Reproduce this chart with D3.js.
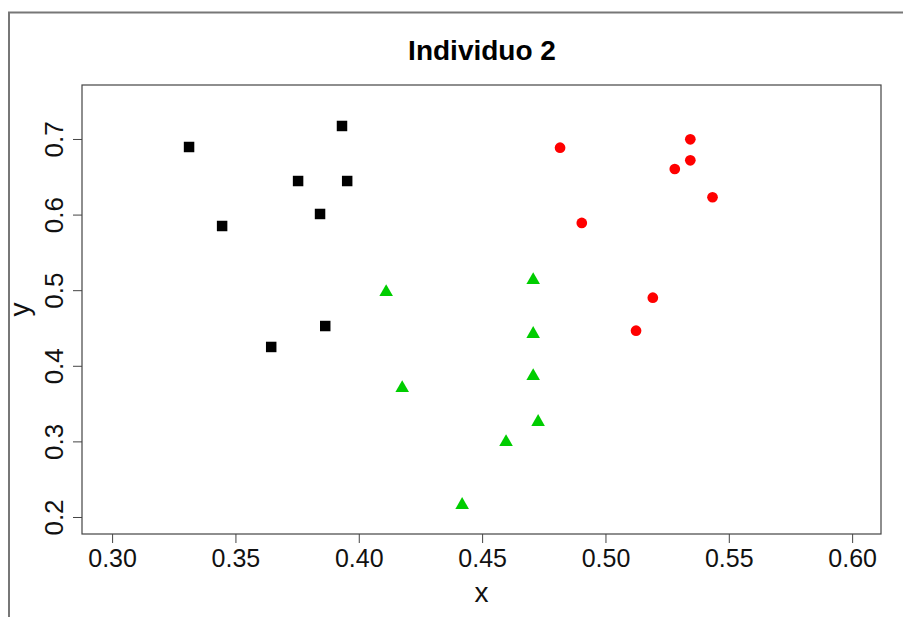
<!DOCTYPE html>
<html>
<head>
<meta charset="utf-8">
<script src="https://cdn.jsdelivr.net/npm/d3@7"></script>
<style>
  html, body { margin: 0; padding: 0; background: #fff; }
  svg { display: block; font-family: "Liberation Sans", Arial, sans-serif; }
</style>
</head>
<body>
<svg id="chart" width="903" height="617"></svg>
<script>
// ---- Data ----
const title = "Individuo 2";
const xLabel = "x";
const yLabel = "y";
const xTicks = [0.30, 0.35, 0.40, 0.45, 0.50, 0.55, 0.60];
const yTicks = [0.2, 0.3, 0.4, 0.5, 0.6, 0.7];

const groupNames = ["grupo1", "grupo2", "grupo3"];
const groupColors = ["#000000", "#00CD00", "#FF0000"];
const groupShapes = ["square", "triangle", "circle"];

const g1x = [0.3932, 0.3312, 0.3754, 0.3953, 0.3843, 0.3446, 0.3864, 0.3645];
const g1y = [0.7172, 0.6894, 0.6444, 0.6444, 0.6008, 0.5849, 0.4526, 0.4249];

const g2x = [0.4707, 0.4111, 0.4707, 0.4707, 0.4176, 0.4727, 0.4597, 0.4419];
const g2y = [0.5135, 0.4976, 0.4421, 0.3865, 0.3706, 0.3257, 0.2992, 0.2159];

const g3x = [0.4816, 0.5344, 0.5344, 0.5281, 0.5434, 0.4904, 0.5192, 0.5124];
const g3y = [0.6885, 0.6996, 0.6718, 0.6603, 0.6229, 0.5889, 0.4901, 0.4464];

const xDomain = [0.2878, 0.6117];
const yDomain = [0.1775, 0.7714];

// ---- Build ----
const groups = [[g1x, g1y], [g2x, g2y], [g3x, g3y]];
const points = [];
groups.forEach((g, gi) => g[0].forEach((xv, i) => points.push({ x: xv, y: g[1][i], g: gi })));

const svg = d3.select("#chart");
const plot = { left: 82, right: 881, top: 85, bottom: 534 };

const x = d3.scaleLinear().domain(xDomain).range([plot.left, plot.right]);
const y = d3.scaleLinear().domain(yDomain).range([plot.bottom, plot.top]);

// outer device frame (partially visible)
svg.append("path")
  .attr("d", "M9,617 V12.5 H903")
  .attr("fill", "none")
  .attr("stroke", "#777")
  .attr("stroke-width", 2);

// title
svg.append("text")
  .attr("x", 482).attr("y", 60)
  .attr("text-anchor", "middle")
  .attr("font-size", 28).attr("font-weight", "bold")
  .attr("fill", "#000")
  .text(title);

// x axis
const xAxis = svg.append("g")
  .attr("transform", `translate(0,${plot.bottom})`)
  .call(d3.axisBottom(x).tickValues(xTicks).tickSize(9).tickPadding(6).tickFormat(d3.format(".2f")));
xAxis.select(".domain").remove();
xAxis.selectAll(".tick line").attr("stroke", "#444");
xAxis.selectAll(".tick text")
  .attr("font-size", 25).attr("font-family", "Liberation Sans, Arial, sans-serif")
  .attr("fill", "#111").attr("dy", "0.71em");

// y axis
const yAxis = svg.append("g")
  .attr("transform", `translate(${plot.left},0)`)
  .call(d3.axisLeft(y).tickValues(yTicks).tickSize(9).tickFormat(d3.format(".1f")));
yAxis.select(".domain").remove();
yAxis.selectAll(".tick line").attr("stroke", "#444");
yAxis.selectAll(".tick text")
  .attr("font-size", 26).attr("font-family", "Liberation Sans, Arial, sans-serif")
  .attr("fill", "#111")
  .attr("x", null).attr("dy", null)
  .attr("text-anchor", "middle")
  .attr("transform", "translate(-19,0) rotate(-90)");

// plot box
svg.append("rect")
  .attr("x", plot.left).attr("y", plot.top)
  .attr("width", plot.right - plot.left).attr("height", plot.bottom - plot.top)
  .attr("fill", "none").attr("stroke", "#444").attr("stroke-width", 1.2);

// axis labels
svg.append("text")
  .attr("x", (plot.left + plot.right) / 2).attr("y", 602)
  .attr("text-anchor", "middle").attr("font-size", 28).attr("fill", "#111")
  .text(xLabel);
svg.append("text")
  .attr("transform", `translate(29,${(plot.top + plot.bottom) / 2}) rotate(-90)`)
  .attr("text-anchor", "middle").attr("font-size", 28).attr("fill", "#111")
  .text(yLabel);

// points
const sym = {
  square: d3.symbol().type(d3.symbolSquare).size(110),
  triangle: d3.symbol().type(d3.symbolTriangle).size(80),
  circle: d3.symbol().type(d3.symbolCircle).size(90)
};
svg.append("g").selectAll("path")
  .data(points)
  .join("path")
  .attr("transform", d => `translate(${x(d.x)},${y(d.y)})`)
  .attr("d", d => sym[groupShapes[d.g]]())
  .attr("fill", d => groupColors[d.g]);
</script>
</body>
</html>
